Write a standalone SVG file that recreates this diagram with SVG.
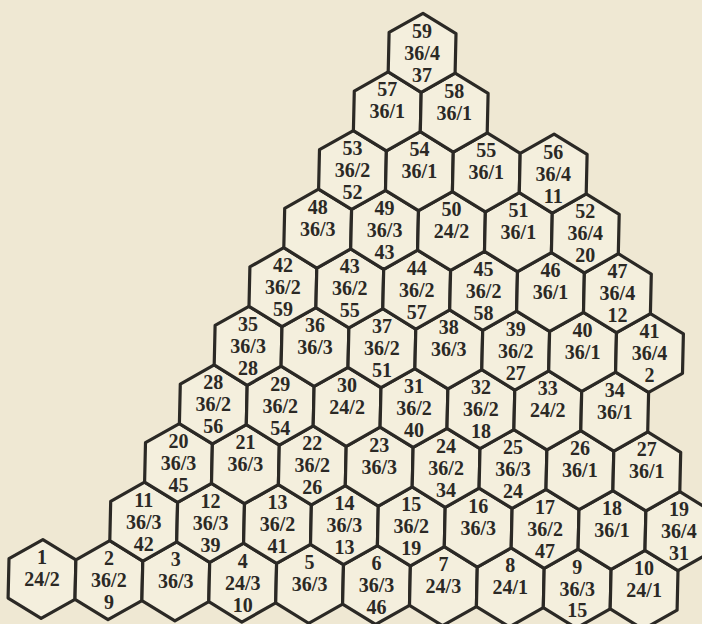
<svg xmlns="http://www.w3.org/2000/svg" width="702" height="624" viewBox="0 0 702 624">
<style>
.bg{fill:#efe8d3}
.hx{fill:#f4efdd;stroke:#2b2925;stroke-width:3.2;stroke-linejoin:round}
text{font-family:"Liberation Serif","Times New Roman",serif;font-size:20px;font-weight:bold;fill:#2b2925;text-anchor:middle}
</style>
<defs>
<polygon id="hx" class="hx" points="0.9,-39.47 33.9,-19.13 33,20.33 -0.9,39.47 -33.9,19.13 -33,-20.33"/>
</defs>
<rect class="bg" x="0" y="0" width="702" height="624"/>
<g id="nodes">
<g id="n1" transform="translate(42 579)"><use href="#hx"/><text y="-15">1</text><text y="7">24/2</text></g>
<g id="n2" transform="translate(108.9 580.2)"><use href="#hx"/><text y="-15">2</text><text y="7">36/2</text><text y="29">9</text></g>
<g id="n3" transform="translate(175.8 581.4)"><use href="#hx"/><text y="-15">3</text><text y="7">36/3</text></g>
<g id="n4" transform="translate(242.7 582.6)"><use href="#hx"/><text y="-15">4</text><text y="7">24/3</text><text y="29">10</text></g>
<g id="n5" transform="translate(309.6 583.8)"><use href="#hx"/><text y="-15">5</text><text y="7">36/3</text></g>
<g id="n6" transform="translate(376.5 585)"><use href="#hx"/><text y="-15">6</text><text y="7">36/3</text><text y="29">46</text></g>
<g id="n7" transform="translate(443.4 586.2)"><use href="#hx"/><text y="-15">7</text><text y="7">24/3</text></g>
<g id="n8" transform="translate(510.3 587.4)"><use href="#hx"/><text y="-15">8</text><text y="7">24/1</text></g>
<g id="n9" transform="translate(577.2 588.6)"><use href="#hx"/><text y="-15">9</text><text y="7">36/3</text><text y="28">15</text></g>
<g id="n10" transform="translate(644.1 589.8)"><use href="#hx"/><text y="-15">10</text><text y="7">24/1</text></g>

<g id="n11" transform="translate(143.7 521.6)"><use href="#hx"/><text y="-15">11</text><text y="7">36/3</text><text y="29">42</text></g>
<g id="n12" transform="translate(210.6 522.8)"><use href="#hx"/><text y="-15">12</text><text y="7">36/3</text><text y="29">39</text></g>
<g id="n13" transform="translate(277.5 524)"><use href="#hx"/><text y="-15">13</text><text y="7">36/2</text><text y="29">41</text></g>
<g id="n14" transform="translate(344.4 525.2)"><use href="#hx"/><text y="-15">14</text><text y="7">36/3</text><text y="29">13</text></g>
<g id="n15" transform="translate(411.3 526.4)"><use href="#hx"/><text y="-15">15</text><text y="7">36/2</text><text y="29">19</text></g>
<g id="n16" transform="translate(478.2 527.6)"><use href="#hx"/><text y="-15">16</text><text y="7">36/3</text></g>
<g id="n17" transform="translate(545.1 528.8)"><use href="#hx"/><text y="-15">17</text><text y="7">36/2</text><text y="29">47</text></g>
<g id="n18" transform="translate(612 530)"><use href="#hx"/><text y="-15">18</text><text y="7">36/1</text></g>
<g id="n19" transform="translate(678.9 531.2)"><use href="#hx"/><text y="-15">19</text><text y="7">36/4</text><text y="29">31</text></g>

<g id="n20" transform="translate(178.5 463)"><use href="#hx"/><text y="-15">20</text><text y="7">36/3</text><text y="29">45</text></g>
<g id="n21" transform="translate(245.4 464.2)"><use href="#hx"/><text y="-15">21</text><text y="7">36/3</text></g>
<g id="n22" transform="translate(312.3 465.4)"><use href="#hx"/><text y="-15">22</text><text y="7">36/2</text><text y="29">26</text></g>
<g id="n23" transform="translate(379.2 466.6)"><use href="#hx"/><text y="-15">23</text><text y="7">36/3</text></g>
<g id="n24" transform="translate(446.1 467.8)"><use href="#hx"/><text y="-15">24</text><text y="7">36/2</text><text y="29">34</text></g>
<g id="n25" transform="translate(513 469)"><use href="#hx"/><text y="-15">25</text><text y="7">36/3</text><text y="29">24</text></g>
<g id="n26" transform="translate(579.9 470.2)"><use href="#hx"/><text y="-15">26</text><text y="7">36/1</text></g>
<g id="n27" transform="translate(646.8 471.4)"><use href="#hx"/><text y="-15">27</text><text y="7">36/1</text></g>

<g id="n28" transform="translate(213.3 404.4)"><use href="#hx"/><text y="-15">28</text><text y="7">36/2</text><text y="29">56</text></g>
<g id="n29" transform="translate(280.2 405.6)"><use href="#hx"/><text y="-15">29</text><text y="7">36/2</text><text y="29">54</text></g>
<g id="n30" transform="translate(347.1 406.8)"><use href="#hx"/><text y="-15">30</text><text y="7">24/2</text></g>
<g id="n31" transform="translate(414 408)"><use href="#hx"/><text y="-15">31</text><text y="7">36/2</text><text y="29">40</text></g>
<g id="n32" transform="translate(480.9 409.2)"><use href="#hx"/><text y="-15">32</text><text y="7">36/2</text><text y="29">18</text></g>
<g id="n33" transform="translate(547.8 410.4)"><use href="#hx"/><text y="-15">33</text><text y="7">24/2</text></g>
<g id="n34" transform="translate(614.7 411.6)"><use href="#hx"/><text y="-15">34</text><text y="7">36/1</text></g>

<g id="n35" transform="translate(248.1 345.8)"><use href="#hx"/><text y="-15">35</text><text y="7">36/3</text><text y="29">28</text></g>
<g id="n36" transform="translate(315 347)"><use href="#hx"/><text y="-15">36</text><text y="7">36/3</text></g>
<g id="n37" transform="translate(381.9 348.2)"><use href="#hx"/><text y="-15">37</text><text y="7">36/2</text><text y="29">51</text></g>
<g id="n38" transform="translate(448.8 349.4)"><use href="#hx"/><text y="-15">38</text><text y="7">36/3</text></g>
<g id="n39" transform="translate(515.7 350.6)"><use href="#hx"/><text y="-15">39</text><text y="7">36/2</text><text y="29">27</text></g>
<g id="n40" transform="translate(582.6 351.8)"><use href="#hx"/><text y="-15">40</text><text y="7">36/1</text></g>
<g id="n41" transform="translate(649.5 353)"><use href="#hx"/><text y="-15">41</text><text y="7">36/4</text><text y="29">2</text></g>

<g id="n42" transform="translate(282.9 287.2)"><use href="#hx"/><text y="-15">42</text><text y="7">36/2</text><text y="29">59</text></g>
<g id="n43" transform="translate(349.8 288.4)"><use href="#hx"/><text y="-15">43</text><text y="7">36/2</text><text y="29">55</text></g>
<g id="n44" transform="translate(416.7 289.6)"><use href="#hx"/><text y="-15">44</text><text y="7">36/2</text><text y="29">57</text></g>
<g id="n45" transform="translate(483.6 290.8)"><use href="#hx"/><text y="-15">45</text><text y="7">36/2</text><text y="29">58</text></g>
<g id="n46" transform="translate(550.5 292)"><use href="#hx"/><text y="-15">46</text><text y="7">36/1</text></g>
<g id="n47" transform="translate(617.4 293.2)"><use href="#hx"/><text y="-15">47</text><text y="7">36/4</text><text y="29">12</text></g>

<g id="n48" transform="translate(317.7 228.6)"><use href="#hx"/><text y="-15">48</text><text y="7">36/3</text></g>
<g id="n49" transform="translate(384.6 229.8)"><use href="#hx"/><text y="-15">49</text><text y="7">36/3</text><text y="29">43</text></g>
<g id="n50" transform="translate(451.5 231)"><use href="#hx"/><text y="-15">50</text><text y="7">24/2</text></g>
<g id="n51" transform="translate(518.4 232.2)"><use href="#hx"/><text y="-15">51</text><text y="7">36/1</text></g>
<g id="n52" transform="translate(585.3 233.4)"><use href="#hx"/><text y="-15">52</text><text y="7">36/4</text><text y="29">20</text></g>

<g id="n53" transform="translate(352.5 170)"><use href="#hx"/><text y="-15">53</text><text y="7">36/2</text><text y="29">52</text></g>
<g id="n54" transform="translate(419.4 171.2)"><use href="#hx"/><text y="-15">54</text><text y="7">36/1</text></g>
<g id="n55" transform="translate(486.3 172.4)"><use href="#hx"/><text y="-15">55</text><text y="7">36/1</text></g>
<g id="n56" transform="translate(553.2 173.6)"><use href="#hx"/><text y="-15">56</text><text y="7">36/4</text><text y="29">11</text></g>

<g id="n57" transform="translate(387.3 111.4)"><use href="#hx"/><text y="-15">57</text><text y="7">36/1</text></g>
<g id="n58" transform="translate(454.2 112.6)"><use href="#hx"/><text y="-15">58</text><text y="7">36/1</text></g>

<g id="n59" transform="translate(422.1 52.8)"><use href="#hx"/><text y="-15">59</text><text y="7">36/4</text><text y="29">37</text></g>
</g>
</svg>
